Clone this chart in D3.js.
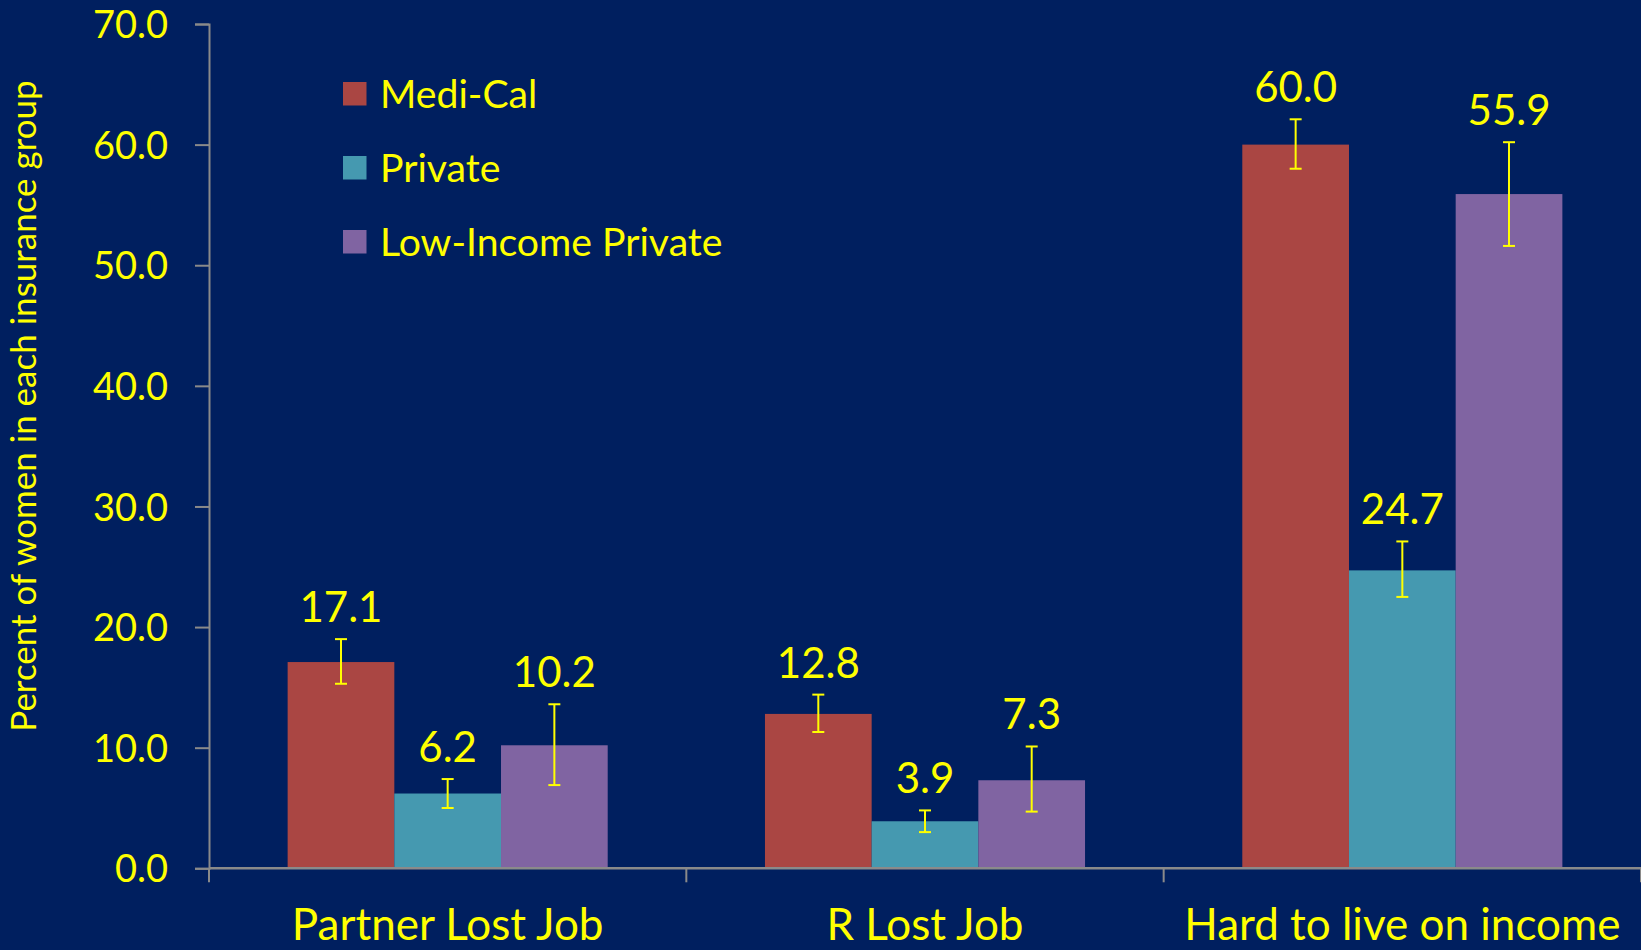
<!DOCTYPE html>
<html>
<head>
<meta charset="utf-8">
<script src="https://cdn.jsdelivr.net/npm/d3@7"></script>
<style>
  html, body { margin: 0; padding: 0; background: #001F5F; }
  svg { display: block; }
  text { font-family: Lato, "Open Sans", sans-serif; fill: #FFFF00; }
</style>
</head>
<body>
<svg id="chart" width="1641" height="950"></svg>
<script>
// ---- data ----
const categories = ["Partner Lost Job", "R Lost Job", "Hard to live on income"];
const seriesNames = ["Medi-Cal", "Private", "Low-Income Private"];
const mediCal = [17.1, 12.8, 60.0];
const privateIns = [6.2, 3.9, 24.7];
const lowIncomePrivate = [10.2, 7.3, 55.9];
const mediCalLow = [15.3, 11.3, 58.0];
const mediCalHigh = [19.0, 14.4, 62.1];
const privateLow = [5.0, 3.0, 22.5];
const privateHigh = [7.4, 4.8, 27.1];
const lowIncomeLow = [6.9, 4.7, 51.6];
const lowIncomeHigh = [13.6, 10.1, 60.2];
const yTickValues = [0, 10, 20, 30, 40, 50, 60, 70];
const yTitle = "Percent of women in each insurance group";

const colors = ["#AA4643", "#4599B0", "#8064A2"];
const axisColor = "#8A8A8A";

const seriesValues = [mediCal, privateIns, lowIncomePrivate];
const seriesLow = [mediCalLow, privateLow, lowIncomeLow];
const seriesHigh = [mediCalHigh, privateHigh, lowIncomeHigh];

const rows = [];
categories.forEach((c, ci) => {
  seriesNames.forEach((s, si) => {
    rows.push({ cat: c, series: s, si, value: seriesValues[si][ci], lo: seriesLow[si][ci], hi: seriesHigh[si][ci] });
  });
});

// ---- layout ----
const svg = d3.select("#chart");
const mLeft = 209, mRight = 1641, mTop = 24, mBottom = 868.3;

const x0 = d3.scaleBand().domain(categories).range([mLeft, mRight]).paddingInner(0).paddingOuter(0);
const x1 = d3.scaleBand().domain(seriesNames).range([0, x0.bandwidth()]).paddingInner(0).paddingOuter(0.737);
const y = d3.scaleLinear().domain([0, 70]).range([mBottom, mTop]);
const color = d3.scaleOrdinal().domain(seriesNames).range(colors);

// bars
const g = svg.append("g");
g.selectAll("rect.bar").data(rows).join("rect")
  .attr("class", "bar")
  .attr("x", d => x0(d.cat) + x1(d.series))
  .attr("y", d => y(d.value))
  .attr("width", x1.bandwidth())
  .attr("height", d => y(0) - y(d.value))
  .attr("fill", d => color(d.series));

// y axis
const yAxis = d3.axisLeft(y).tickValues(yTickValues).tickFormat(d3.format(".1f")).tickSizeOuter(0).tickSize(14).tickPadding(27);
const ya = svg.append("g").attr("transform", `translate(${mLeft},0)`).call(yAxis);
ya.select(".domain").attr("stroke", axisColor).attr("stroke-width", 2);
ya.selectAll(".tick line").attr("stroke", axisColor).attr("stroke-width", 2);
ya.selectAll(".tick text").attr("font-size", 38).attr("font-family", "Lato").attr("fill", "#FFFF00").attr("dy", "0.36em");

// x axis
const xa = svg.append("g").attr("transform", `translate(0,${mBottom})`);
xa.append("line").attr("x1", mLeft).attr("x2", mRight).attr("y1", 0).attr("y2", 0)
  .attr("stroke", axisColor).attr("stroke-width", 2.5);
const boundaries = categories.map(c => x0(c)).concat([mRight]);
xa.selectAll("line.ct").data(boundaries).join("line").attr("class", "ct")
  .attr("x1", d => d).attr("x2", d => d).attr("y1", 0).attr("y2", 14)
  .attr("stroke", axisColor).attr("stroke-width", 2);
xa.selectAll("text.cat").data(categories).join("text").attr("class", "cat")
  .attr("x", d => x0(d) + x0.bandwidth() / 2)
  .attr("y", 940 - mBottom)
  .attr("text-anchor", "middle")
  .attr("font-size", 44)
  .text(d => d);

// error bars
const eb = svg.append("g").attr("stroke", "#FFFF00").attr("stroke-width", 2);
rows.forEach(d => {
  const cx = x0(d.cat) + x1(d.series) + x1.bandwidth() / 2;
  eb.append("line").attr("x1", cx).attr("x2", cx).attr("y1", y(d.lo)).attr("y2", y(d.hi));
  eb.append("line").attr("x1", cx - 6).attr("x2", cx + 6).attr("y1", y(d.lo)).attr("y2", y(d.lo));
  eb.append("line").attr("x1", cx - 6).attr("x2", cx + 6).attr("y1", y(d.hi)).attr("y2", y(d.hi));
});

// data labels
svg.append("g").selectAll("text").data(rows).join("text")
  .attr("x", d => x0(d.cat) + x1(d.series) + x1.bandwidth() / 2)
  .attr("y", d => y(d.hi) - 17)
  .attr("text-anchor", "middle")
  .attr("font-size", 42)
  .text(d => d3.format(".1f")(d.value));

// legend
const lg = svg.append("g").attr("transform", "translate(343,82)");
seriesNames.forEach((s, i) => {
  const row = lg.append("g").attr("transform", `translate(0,${i * 74})`);
  row.append("rect").attr("width", 23.5).attr("height", 23.5).attr("fill", color(s));
  row.append("text").attr("x", 37).attr("y", 25.5).attr("font-size", 39.2).text(s);
});

// y title
svg.append("text")
  .attr("transform", "translate(36,406) rotate(-90)")
  .attr("text-anchor", "middle")
  .attr("font-size", 35)
  .text(yTitle);
</script>
</body>
</html>
